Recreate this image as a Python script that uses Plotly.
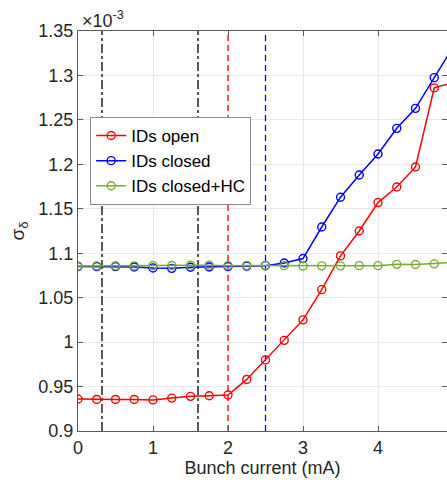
import plotly.graph_objects as go

current = [0, 0.25, 0.5, 0.75, 1.0, 1.25, 1.5, 1.75, 2.0, 2.25, 2.5, 2.75, 3.0,
           3.25, 3.5, 3.75, 4.0, 4.25, 4.5, 4.75, 5.0]
ids_open = [0.936, 0.9355, 0.9355, 0.9355, 0.935, 0.937, 0.939, 0.9397, 0.9405, 0.958,
            0.980, 1.002, 1.025, 1.059, 1.097, 1.125, 1.157, 1.1745, 1.197, 1.286, 1.292]
ids_closed = [1.085, 1.085, 1.085, 1.0845, 1.0834, 1.083, 1.0842, 1.0845, 1.085, 1.0855,
              1.086, 1.089, 1.094, 1.1295, 1.163, 1.188, 1.2116, 1.2405, 1.263, 1.2975, 1.332]
ids_closed_hc = [1.0855, 1.0858, 1.0858, 1.0858, 1.086, 1.0862, 1.0866, 1.0866, 1.086, 1.0863,
                 1.0862, 1.086, 1.0855, 1.0858, 1.0858, 1.086, 1.086, 1.0875, 1.0873, 1.088, 1.0895]

vlines_black = [0.32, 1.6]
vline_red = 2.0
vline_blue = 2.5

y_range = [0.9, 1.35]
x_range = [0, 4.92]
y_ticks = [0.9, 0.95, 1.0, 1.05, 1.1, 1.15, 1.2, 1.25, 1.3, 1.35]
y_ticklabels = ["0.9", "0.95", "1", "1.05", "1.1", "1.15", "1.2", "1.25", "1.3", "1.35"]
x_ticks = [0, 1, 2, 3, 4]

fig = go.Figure()

for xv in vlines_black:
    fig.add_trace(go.Scatter(x=[xv, xv], y=y_range, mode="lines", showlegend=False,
                             line=dict(color="#000000", width=1.3, dash="dashdot"),
                             hoverinfo="skip"))
fig.add_trace(go.Scatter(x=[vline_red, vline_red], y=y_range, mode="lines", showlegend=False,
                         line=dict(color="#FF0000", width=1.3, dash="6px,4px"), hoverinfo="skip"))
fig.add_trace(go.Scatter(x=[vline_blue, vline_blue], y=y_range, mode="lines", showlegend=False,
                         line=dict(color="#0000FF", width=1.3, dash="6px,4px"), hoverinfo="skip"))

marker_common = dict(symbol="circle-open", size=8, line=dict(width=1.4))
fig.add_trace(go.Scatter(x=current, y=ids_open, mode="lines+markers", name="IDs open",
                         line=dict(color="#FF0000", width=1.5),
                         marker=dict(color="#FF0000", **marker_common)))
fig.add_trace(go.Scatter(x=current, y=ids_closed, mode="lines+markers", name="IDs closed",
                         line=dict(color="#0000FF", width=1.5),
                         marker=dict(color="#0000FF", **marker_common)))
fig.add_trace(go.Scatter(x=current, y=ids_closed_hc, mode="lines+markers", name="IDs closed+HC",
                         line=dict(color="#77AC30", width=1.5),
                         marker=dict(color="#77AC30", **marker_common)))

axis_common = dict(showline=True, linecolor="#5a5a5a", linewidth=1, mirror="ticks",
                   ticks="inside", ticklen=5, tickcolor="#5a5a5a",
                   showgrid=True, gridcolor="#e8e8e8", gridwidth=1, zeroline=False,
                   tickfont=dict(size=18, color="#262626"))

fig.update_layout(
    width=447, height=483,
    margin=dict(l=78, r=0, t=31, b=52),
    paper_bgcolor="white", plot_bgcolor="white",
    font=dict(family="Liberation Sans, Arial, sans-serif", color="#262626"),
    xaxis=dict(range=x_range, tickvals=x_ticks,
               title=dict(text="Bunch current (mA)", font=dict(size=18), standoff=4),
               **axis_common),
    yaxis=dict(range=y_range, tickvals=y_ticks, ticktext=y_ticklabels,
               title=dict(text="σ<sub>δ</sub>", font=dict(size=19), standoff=8),
               **axis_common),
    legend=dict(x=0.033, y=0.785, xanchor="left", yanchor="top",
                bgcolor="white", bordercolor="#8c8c8c", borderwidth=1,
                font=dict(size=17, color="#000000"), tracegroupgap=0,
                itemwidth=30),
    annotations=[dict(text="×10<sup>-3</sup>", xref="paper", yref="paper", x=0.0, y=1.0,
                      xanchor="left", yanchor="bottom", showarrow=False,
                      font=dict(size=18, color="#262626"), xshift=2, yshift=-2)],
    showlegend=True,
)

fig.write_html("out.html")
